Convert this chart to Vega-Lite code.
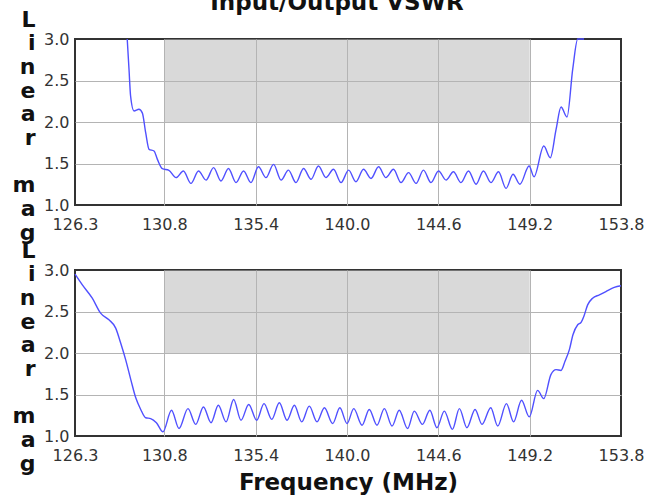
{
  "$schema": "https://vega.github.io/schema/vega-lite/v6.json",
  "padding": {"left": 11, "top": -8, "right": 10, "bottom": 5},
  "title": {"text": "Input/Output VSWR", "font": "DejaVu Sans", "fontSize": 23, "fontWeight": "bold", "color": "#111111", "baseline": "alphabetic", "offset": -26, "dx": 9, "anchor": "middle", "frame": "bounds"},
  "datasets": {
    "band": [{"f1": 130.8, "f2": 149.2, "v1": 2.0, "v2": 3.0}],
    "top": [
      {"f": 128.93, "v": 3.0}, {"f": 129.02, "v": 2.635}, {"f": 129.10, "v": 2.313}, {"f": 129.27, "v": 2.133}, {"f": 129.52, "v": 2.153}, {"f": 129.69, "v": 2.11}, {"f": 129.86, "v": 1.871}, {"f": 130.03, "v": 1.671}, {"f": 130.28, "v": 1.651}, {"f": 130.45, "v": 1.55}, {"f": 130.70, "v": 1.437}, {"f": 131.03, "v": 1.418},
      {"f": 131.39, "v": 1.33}, {"f": 131.76, "v": 1.41}, {"f": 132.14, "v": 1.26}, {"f": 132.52, "v": 1.41}, {"f": 132.90, "v": 1.30}, {"f": 133.28, "v": 1.45}, {"f": 133.65, "v": 1.29}, {"f": 134.03, "v": 1.44}, {"f": 134.41, "v": 1.27}, {"f": 134.79, "v": 1.41}, {"f": 135.16, "v": 1.27}, {"f": 135.54, "v": 1.46}, {"f": 135.92, "v": 1.33}, {"f": 136.30, "v": 1.49}, {"f": 136.68, "v": 1.30}, {"f": 137.05, "v": 1.42}, {"f": 137.43, "v": 1.27}, {"f": 137.81, "v": 1.44}, {"f": 138.19, "v": 1.31}, {"f": 138.56, "v": 1.47}, {"f": 138.94, "v": 1.33}, {"f": 139.32, "v": 1.43}, {"f": 139.70, "v": 1.27}, {"f": 140.08, "v": 1.42}, {"f": 140.45, "v": 1.28}, {"f": 140.83, "v": 1.43}, {"f": 141.21, "v": 1.32}, {"f": 141.59, "v": 1.46}, {"f": 141.96, "v": 1.33}, {"f": 142.34, "v": 1.43}, {"f": 142.72, "v": 1.27}, {"f": 143.10, "v": 1.39}, {"f": 143.48, "v": 1.26}, {"f": 143.85, "v": 1.42}, {"f": 144.23, "v": 1.27}, {"f": 144.61, "v": 1.41}, {"f": 144.99, "v": 1.30}, {"f": 145.36, "v": 1.40}, {"f": 145.74, "v": 1.27}, {"f": 146.12, "v": 1.41}, {"f": 146.50, "v": 1.25}, {"f": 146.87, "v": 1.41}, {"f": 147.25, "v": 1.27}, {"f": 147.63, "v": 1.40}, {"f": 148.01, "v": 1.20}, {"f": 148.36, "v": 1.37}, {"f": 148.71, "v": 1.25}, {"f": 149.17, "v": 1.47}, {"f": 149.42, "v": 1.34},
      {"f": 149.91, "v": 1.71}, {"f": 150.24, "v": 1.57}, {"f": 150.53, "v": 1.91}, {"f": 150.78, "v": 2.18}, {"f": 151.08, "v": 2.06}, {"f": 151.37, "v": 2.64}, {"f": 151.62, "v": 3.0}, {"f": 151.94, "v": 3.0}
    ],
    "bottom": [
      {"f": 126.30, "v": 2.95}, {"f": 126.67, "v": 2.82}, {"f": 127.17, "v": 2.66}, {"f": 127.59, "v": 2.48}, {"f": 128.01, "v": 2.40}, {"f": 128.35, "v": 2.30}, {"f": 128.60, "v": 2.12}, {"f": 128.85, "v": 1.92}, {"f": 129.11, "v": 1.68}, {"f": 129.36, "v": 1.46}, {"f": 129.61, "v": 1.32}, {"f": 129.86, "v": 1.22}, {"f": 130.11, "v": 1.21}, {"f": 130.40, "v": 1.16}, {"f": 130.73, "v": 1.05},
      {"f": 131.16, "v": 1.31}, {"f": 131.54, "v": 1.09}, {"f": 131.99, "v": 1.33}, {"f": 132.38, "v": 1.14}, {"f": 132.77, "v": 1.35}, {"f": 133.15, "v": 1.16}, {"f": 133.52, "v": 1.37}, {"f": 133.91, "v": 1.17}, {"f": 134.29, "v": 1.44}, {"f": 134.66, "v": 1.19}, {"f": 135.05, "v": 1.38}, {"f": 135.45, "v": 1.19}, {"f": 135.82, "v": 1.39}, {"f": 136.21, "v": 1.20}, {"f": 136.59, "v": 1.40}, {"f": 136.98, "v": 1.19}, {"f": 137.35, "v": 1.37}, {"f": 137.72, "v": 1.17}, {"f": 138.10, "v": 1.36}, {"f": 138.49, "v": 1.17}, {"f": 138.86, "v": 1.34}, {"f": 139.28, "v": 1.15}, {"f": 139.64, "v": 1.34}, {"f": 140.00, "v": 1.15}, {"f": 140.34, "v": 1.33}, {"f": 140.76, "v": 1.13}, {"f": 141.12, "v": 1.32}, {"f": 141.51, "v": 1.13}, {"f": 141.88, "v": 1.33}, {"f": 142.27, "v": 1.12}, {"f": 142.63, "v": 1.31}, {"f": 143.05, "v": 1.09}, {"f": 143.39, "v": 1.30}, {"f": 143.80, "v": 1.14}, {"f": 144.17, "v": 1.31}, {"f": 144.53, "v": 1.10}, {"f": 144.90, "v": 1.30}, {"f": 145.31, "v": 1.08}, {"f": 145.66, "v": 1.33}, {"f": 146.04, "v": 1.10}, {"f": 146.45, "v": 1.32}, {"f": 146.80, "v": 1.14}, {"f": 147.24, "v": 1.34}, {"f": 147.59, "v": 1.12}, {"f": 148.03, "v": 1.39}, {"f": 148.39, "v": 1.17}, {"f": 148.79, "v": 1.43}, {"f": 149.18, "v": 1.23},
      {"f": 149.60, "v": 1.55}, {"f": 149.91, "v": 1.45}, {"f": 150.27, "v": 1.74}, {"f": 150.53, "v": 1.80}, {"f": 150.78, "v": 1.79}, {"f": 150.98, "v": 1.90}, {"f": 151.20, "v": 2.04}, {"f": 151.38, "v": 2.22}, {"f": 151.62, "v": 2.34}, {"f": 151.79, "v": 2.37}, {"f": 151.94, "v": 2.45}, {"f": 152.12, "v": 2.58}, {"f": 152.37, "v": 2.66}, {"f": 152.71, "v": 2.70}, {"f": 153.04, "v": 2.74}, {"f": 153.46, "v": 2.79}, {"f": 153.80, "v": 2.81}
    ]
  },
  "vconcat": [
    {
      "width": 546,
      "height": 166,
      "layer": [
        {
          "data": {"name": "band"},
          "mark": {"type": "rect", "color": "#b4b4b4", "opacity": 0.5},
          "encoding": {
            "x": {"field": "f1", "type": "quantitative", "scale": {"domain": [126.3, 153.8], "nice": false, "zero": false},
              "axis": {"values": [126.3, 130.8, 135.4, 140.0, 144.6, 149.2, 153.8], "format": ".1f", "title": null,
                "gridOpacity": {"condition": {"test": "datum.value < 126.4 || datum.value > 153.7", "value": 0}, "value": 1}}},
            "x2": {"field": "f2"},
            "y": {"field": "v1", "type": "quantitative", "scale": {"domain": [1, 3], "nice": false, "zero": false},
              "axis": {"values": [1, 1.5, 2, 2.5, 3], "format": ".1f",
                "title": ["L", "i", "n", "e", "a", "r", "\u200b", "m", "a", "g"],
                "titleAngle": 0, "titleAlign": "right", "titleBaseline": "alphabetic", "titleX": -40, "titleY": -13, "titleLineHeight": 23.7, "titleFontSize": 22,
                "gridOpacity": {"condition": {"test": "datum.value <= 1 || datum.value >= 3", "value": 0}, "value": 1}}},
            "y2": {"field": "v2"}
          }
        },
        {
          "data": {"name": "top"},
          "mark": {"type": "line", "color": "#5050ff", "strokeWidth": 1.4, "interpolate": "monotone"},
          "encoding": {
            "x": {"field": "f", "type": "quantitative", "scale": {"domain": [126.3, 153.8], "nice": false, "zero": false}},
            "y": {"field": "v", "type": "quantitative", "scale": {"domain": [1, 3], "nice": false, "zero": false}}
          }
        }
      ]
    },
    {
      "width": 546,
      "height": 166,
      "layer": [
        {
          "data": {"name": "band"},
          "mark": {"type": "rect", "color": "#b4b4b4", "opacity": 0.5},
          "encoding": {
            "x": {"field": "f1", "type": "quantitative", "scale": {"domain": [126.3, 153.8], "nice": false, "zero": false},
              "axis": {"values": [126.3, 130.8, 135.4, 140.0, 144.6, 149.2, 153.8], "format": ".1f", "title": "Frequency (MHz)",
                "titleFontSize": 23, "titleAlign": "center", "titleBaseline": "alphabetic", "titleX": 273, "titleY": 53,
                "gridOpacity": {"condition": {"test": "datum.value < 126.4 || datum.value > 153.7", "value": 0}, "value": 1}}},
            "x2": {"field": "f2"},
            "y": {"field": "v1", "type": "quantitative", "scale": {"domain": [1, 3], "nice": false, "zero": false},
              "axis": {"values": [1, 1.5, 2, 2.5, 3], "format": ".1f",
                "title": ["L", "i", "n", "e", "a", "r", "\u200b", "m", "a", "g"],
                "titleAngle": 0, "titleAlign": "right", "titleBaseline": "alphabetic", "titleX": -40, "titleY": -13, "titleLineHeight": 23.7, "titleFontSize": 22,
                "gridOpacity": {"condition": {"test": "datum.value <= 1 || datum.value >= 3", "value": 0}, "value": 1}}},
            "y2": {"field": "v2"}
          }
        },
        {
          "data": {"name": "bottom"},
          "mark": {"type": "line", "color": "#5050ff", "strokeWidth": 1.4, "interpolate": "monotone"},
          "encoding": {
            "x": {"field": "f", "type": "quantitative", "scale": {"domain": [126.3, 153.8], "nice": false, "zero": false}},
            "y": {"field": "v", "type": "quantitative", "scale": {"domain": [1, 3], "nice": false, "zero": false}}
          }
        }
      ]
    }
  ],
  "spacing": 65,
  "bounds": "flush",
  "config": {
    "font": "DejaVu Sans",
    "view": {"stroke": "#333333", "strokeWidth": 2},
    "axis": {"labelFont": "DejaVu Sans", "labelFontSize": 16, "labelColor": "#333333", "gridColor": "#b4b4b4", "gridWidth": 1, "ticks": false, "domain": false, "labelOverlap": false, "labelFlush": false, "titleFont": "DejaVu Sans", "titleFontWeight": "bold", "titleColor": "#111111"},
    "axisX": {"labelPadding": 11},
    "axisY": {"labelPadding": 6}
  }
}
